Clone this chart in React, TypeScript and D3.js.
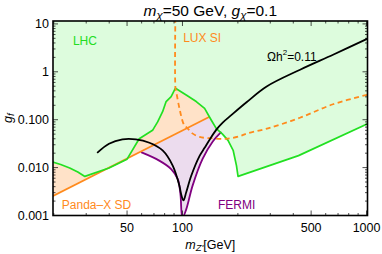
import React from 'react';
import * as d3 from 'd3';

// LHC dijet bound (green)
const lhcMass = [19.5, 21.8, 24.4, 27.0, 29.5, 39.9, 50, 58.2, 68.8, 73.3, 78.0, 81.5, 86.8, 91.6, 104.8, 118.8, 131.9, 143.5, 152.8, 165, 176.8, 188.5, 196.5, 200.4, 427, 1020];
const lhcCoupling = [0.0133, 0.0116, 0.0098, 0.0081, 0.00655, 0.0098, 0.015, 0.04, 0.06, 0.09, 0.147, 0.239, 0.304, 0.455, 0.329, 0.239, 0.172, 0.0975, 0.0652, 0.05, 0.037, 0.023, 0.011, 0.00655, 0.0178, 0.083];

// Panda-X SD (orange, solid)
const pandaMass = [19.5, 140.4];
const pandaCoupling = [0.00248, 0.115];

// FERMI (purple)
const fermiMass = [59.5, 74.8, 86.8, 94.3, 97.5, 100, 104.8, 113.4, 128.6, 145.8, 162.7];
const fermiCoupling = [0.021, 0.014, 0.00933, 0.00575, 0.00277, 0.0009, 0.00134, 0.00415, 0.0152, 0.0347, 0.0556];

// LUX SI (orange, dashed)
const luxMass = [91.6, 91.6, 92.4, 96.3, 100.4, 102.5, 106.9, 113.8, 123.9, 140.4, 173.3, 204.9, 222.8, 291.4, 435, 658, 1020];
const luxCoupling = [20, 0.455, 0.388, 0.172, 0.0903, 0.0766, 0.0652, 0.0512, 0.0436, 0.0411, 0.04, 0.0453, 0.0512, 0.066, 0.11, 0.21, 0.335];

// relic density Omega h^2 = 0.11 (black)
const relicMass = [34.4, 39.9, 47.2, 55.8, 66.1, 78.0, 88.5, 96.3, 98.7, 101.3, 104.8, 111.6, 123.9, 131.9, 140.4, 152.8, 165.4, 180.7, 222.8, 286.6, 435.5, 662, 1020];
const relicCoupling = [0.0203, 0.0315, 0.0388, 0.0388, 0.033, 0.0228, 0.011, 0.00415, 0.00264, 0.00207, 0.00305, 0.00675, 0.0176, 0.0259, 0.0382, 0.0621, 0.0873, 0.117, 0.231, 0.494, 1.107, 2.3, 5.0];

const xTickValues = [50, 100, 500, 1000];
const xTickLabels = ['50', '100', '500', '1000'];
const xMinorValues = [20, 30, 40, 60, 70, 80, 90, 200, 300, 400, 600, 700, 800, 900];
const yTickValues = [0.001, 0.01, 0.1, 1, 10];
const yTickLabels = ['0.001', '0.010', '0.100', '1', '10'];

const zip = (a: number[], b: number[]) => a.map((v, i) => [v, b[i]] as [number, number]);

export default function App() {
  const x = d3.scaleLog().domain([19.8, 1012]).range([53, 367.5]);
  const y = d3.scaleLog().domain([0.001, 11.5]).range([215.5, 21]);
  const [x0, x1] = x.range();
  const [y0, y1] = y.range();

  const font = 'Liberation Sans, Arial, sans-serif';

  const lineLin = d3.line<[number, number]>().x(d => x(d[0])).y(d => y(d[1]));
  const lineSmooth = d3.line<[number, number]>().x(d => x(d[0])).y(d => y(d[1])).curve(d3.curveCatmullRom.alpha(0.5));
  const areaLin = d3.area<[number, number]>().x(d => x(d[0])).y0(y1).y1(d => y(d[1]));
  const areaSmooth = d3.area<[number, number]>().x(d => x(d[0])).y0(y1).y1(d => y(d[1])).curve(d3.curveCatmullRom.alpha(0.5));

  const lhc = zip(lhcMass, lhcCoupling);
  const panda = zip(pandaMass, pandaCoupling);
  const fermi = zip(fermiMass, fermiCoupling);
  const lux = zip(luxMass, luxCoupling);
  const relic = zip(relicMass, relicCoupling);

  const yMinor: number[] = [];
  yTickValues.forEach(d => {
    for (let k = 2; k <= 9; k++) if (d * k < 11.5) yMinor.push(d * k);
  });

  return (
    <svg width={382} height={254} style={{ position: 'absolute', left: 0, top: 0 }} fontFamily={font}>
      <defs>
        <clipPath id="plot">
          <rect x={x0} y={y1} width={x1 - x0} height={y0 - y1} />
        </clipPath>
      </defs>
      <rect x={0} y={0} width={382} height={254} fill="#fff" />
      <g clipPath="url(#plot)">
        <path d={areaSmooth(fermi) || ''} fill="#ecdcee" />
        <path d={areaLin(panda) || ''} fill="#ffe2c8" />
        <path d={areaLin(lhc) || ''} fill="#ddfcdd" />
        <path d={lineSmooth(fermi) || ''} fill="none" stroke="#800080" strokeWidth={1.8} />
        <path d={lineLin(panda) || ''} fill="none" stroke="#ff8a1c" strokeWidth={1.7} />
        <path d={lineLin(lhc) || ''} fill="none" stroke="#22e022" strokeWidth={1.7} strokeLinejoin="round" />
        <path d={lineSmooth(lux) || ''} fill="none" stroke="#ff8a1c" strokeWidth={1.8} strokeDasharray="5,3.5" />
        <path d={lineSmooth(relic) || ''} fill="none" stroke="#000" strokeWidth={1.8} />
      </g>

      {/* frame ticks */}
      <g stroke="#000" strokeWidth={0.7}>
        {xTickValues.map(v => (
          <g key={'xt' + v}>
            <line x1={x(v)} x2={x(v)} y1={y0} y2={y0 - 5} />
            <line x1={x(v)} x2={x(v)} y1={y1} y2={y1 + 5} />
          </g>
        ))}
        {xMinorValues.map(v => (
          <g key={'xm' + v}>
            <line x1={x(v)} x2={x(v)} y1={y0} y2={y0 - 2.5} />
            <line x1={x(v)} x2={x(v)} y1={y1} y2={y1 + 2.5} />
          </g>
        ))}
        {yTickValues.map(v => (
          <g key={'yt' + v}>
            <line x1={x0} x2={x0 + 5} y1={y(v)} y2={y(v)} />
            <line x1={x1} x2={x1 - 5} y1={y(v)} y2={y(v)} />
          </g>
        ))}
        {yMinor.map(v => (
          <g key={'ym' + v}>
            <line x1={x0} x2={x0 + 2.5} y1={y(v)} y2={y(v)} />
            <line x1={x1} x2={x1 - 2.5} y1={y(v)} y2={y(v)} />
          </g>
        ))}
      </g>
      <rect x={x0} y={y1} width={x1 - x0} height={y0 - y1} fill="none" stroke="#000" strokeWidth={1.6} />

      {/* tick labels */}
      <g fontSize={12.5} fill="#000">
        {xTickValues.map((v, i) => (
          <text key={'xl' + v} x={x(v)} y={y0 + 12} textAnchor="middle" dominantBaseline="central">{xTickLabels[i]}</text>
        ))}
        {yTickValues.map((v, i) => (
          <text key={'yl' + v} x={x0 - 4} y={y(v)} textAnchor="end" dominantBaseline="central">{yTickLabels[i]}</text>
        ))}
      </g>

      {/* title and axis titles */}
      <text x={(x0 + x1) / 2} y={16} textAnchor="middle" fontSize={15.5}>
        <tspan fontStyle="italic">m</tspan>
        <tspan fontStyle="italic" fontSize={11.5} dy={3}>χ</tspan>
        <tspan dy={-3}>=50 GeV, </tspan>
        <tspan fontStyle="italic">g</tspan>
        <tspan fontStyle="italic" fontSize={11.5} dy={3}>χ</tspan>
        <tspan dy={-3}>=0.1</tspan>
      </text>
      <text x={(x0 + x1) / 2} y={249} textAnchor="middle" fontSize={12.5}>
        <tspan fontStyle="italic">m</tspan>
        <tspan fontStyle="italic" fontSize={9.5} dy={2}>Z'</tspan>
        <tspan dy={-2}>[GeV]</tspan>
      </text>
      <text transform={`translate(12,${(y0 + y1) / 2}) rotate(-90)`} textAnchor="middle" fontSize={12.5}>
        <tspan fontStyle="italic">g</tspan>
        <tspan fontStyle="italic" fontSize={9.5} dy={2}>f</tspan>
      </text>

      {/* region labels */}
      <g fontSize={12} dominantBaseline="central">
        <text x={x(25.4)} y={y(4.4)} fill="#22dd22">LHC</text>
        <text x={x(100.9)} y={y(5.2)} fill="#ff8a1c">LUX SI</text>
        <text x={x(288)} y={y(2.08)} fill="#000">Ωh<tspan fontSize={8} dy={-5}>2</tspan><tspan dy={5}>=0.11</tspan></text>
        <text x={x(22.1)} y={y(0.00162)} fill="#ff8a1c">Panda–X SD</text>
        <text x={x(156)} y={y(0.00162)} fill="#800080">FERMI</text>
      </g>
    </svg>
  );
}
